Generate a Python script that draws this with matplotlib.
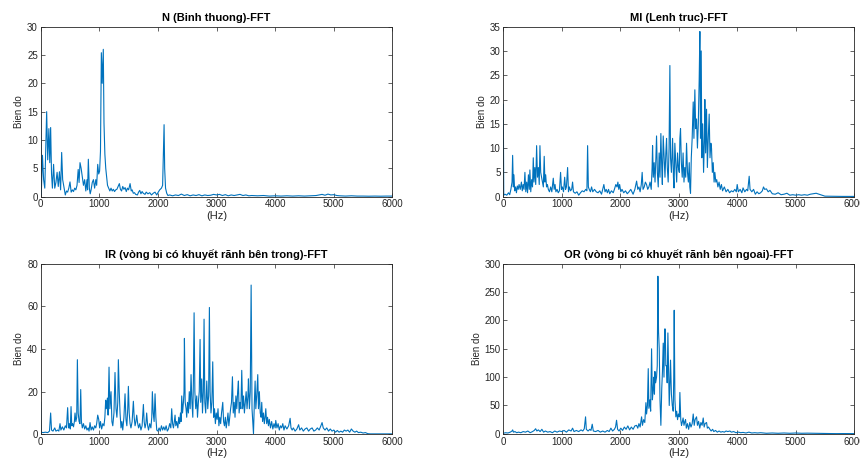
import matplotlib
matplotlib.use("Agg")
import matplotlib.pyplot as plt

# ---------------- data ----------------
n_hz = [
    0, 10, 30, 50, 70, 90, 102, 120, 140, 155,
    170, 185, 200, 220, 240, 260, 280, 300, 320, 340,
    358, 375, 400, 420, 440, 460, 480, 500, 520, 540,
    560, 580, 600, 620, 640, 655, 671, 690, 710, 730,
    750, 770, 790, 800, 813, 830, 845, 860, 880, 900,
    920, 940, 955, 973, 990, 1005, 1020, 1035, 1050, 1068,
    1080, 1095, 1110, 1125, 1140, 1160, 1180, 1200, 1220, 1240,
    1260, 1280, 1300, 1320, 1342, 1360, 1380, 1400, 1420, 1440,
    1460, 1480, 1500, 1525, 1545, 1560, 1580, 1600, 1620, 1650,
    1670, 1690, 1710, 1730, 1750, 1780, 1800, 1830, 1860, 1890,
    1920, 1950, 1980, 2000, 2030, 2060, 2080, 2095, 2105, 2115,
    2130, 2150, 2170, 2200, 2250, 2300, 2350, 2400, 2450, 2500,
    2550, 2600, 2650, 2700, 2750, 2800, 2850, 2900, 2950, 3000,
    3050, 3100, 3150, 3200, 3250, 3300, 3350, 3400, 3450, 3500,
    3550, 3600, 3700, 3800, 3900, 4000, 4100, 4200, 4300, 4400,
    4500, 4600, 4700, 4750, 4800, 4850, 4900, 4950, 5000, 5050,
    5100, 5200, 5300, 5400, 5500, 5600, 5700, 5800, 5900, 6000,
]
n_amp = [
    14.8, 0.4, 7.3, 3, 1.5, 10, 15, 6.5, 12, 6,
    12.2, 4, 1.5, 5.7, 1.5, 2.5, 4.3, 1.8, 4.4, 1.2,
    7.8, 3, 1.5, 0.3, 1, 0.8, 1.5, 2.6, 0.8, 1.2,
    0.9, 1.5, 1.2, 2, 4.8, 2.5, 6, 5, 3.5, 2,
    3, 1, 3, 1.2, 6.6, 1.5, 0.5, 1.2, 2.5, 3,
    1.5, 3, 2, 5.7, 4, 4.5, 8, 25.4, 20, 26,
    13, 7.5, 5, 3.5, 2, 1.5, 1, 1.5, 1, 1.3,
    0.9, 1.2, 1.3, 1.8, 2.3, 1.3, 1.0, 1.8, 1.3, 1.6,
    0.9, 1.5, 1.2, 2.3, 1, 1.2, 0.6, 0.7, 0.4, 0.3,
    0.8, 1.1, 0.5, 0.9, 0.6, 0.4, 0.8, 0.5, 0.7, 0.3,
    0.6, 0.8, 0.3, 0.7, 1.2, 1.5, 2, 8, 12.7, 5,
    1.5, 0.6, 0.2, 0.3, 0.15, 0.3, 0.2, 0.45, 0.2, 0.35,
    0.15, 0.3, 0.2, 0.35, 0.15, 0.3, 0.2, 0.25, 0.4, 0.3,
    0.4, 0.2, 0.35, 0.15, 0.3, 0.2, 0.3, 0.4, 0.2, 0.3,
    0.15, 0.2, 0.15, 0.2, 0.1, 0.15, 0.1, 0.15, 0.1, 0.15,
    0.1, 0.15, 0.2, 0.3, 0.4, 0.25, 0.45, 0.3, 0.35, 0.2,
    0.15, 0.1, 0.15, 0.1, 0.1, 0.08, 0.1, 0.08, 0.1, 0.1,
]

mi_hz = [
    0, 8, 30, 60, 90, 110, 130, 150, 160, 172,
    182, 195, 210, 225, 240, 255, 270, 290, 310, 325,
    340, 355, 370, 385, 400, 415, 430, 445, 455, 470,
    485, 500, 513, 525, 540, 555, 570, 585, 600, 615,
    627, 640, 655, 670, 685, 700, 712, 725, 740, 755,
    770, 790, 810, 830, 855, 870, 885, 900, 920, 940,
    960, 980, 995, 1010, 1030, 1050, 1065, 1080, 1100, 1115,
    1130, 1150, 1170, 1185, 1200, 1230, 1260, 1290, 1320, 1350,
    1380, 1410, 1430, 1442, 1455, 1470, 1490, 1510, 1530, 1560,
    1590, 1620, 1650, 1680, 1700, 1720, 1740, 1760, 1780, 1800,
    1820, 1850, 1880, 1900, 1925, 1945, 1960, 1975, 1990, 2010,
    2030, 2060, 2090, 2120, 2150, 2180, 2200, 2220, 2250, 2280,
    2300, 2320, 2340, 2360, 2375, 2390, 2410, 2430, 2450, 2470,
    2490, 2510, 2530, 2545, 2553, 2565, 2580, 2595, 2610, 2621,
    2635, 2650, 2665, 2680, 2695, 2710, 2720, 2735, 2750, 2765,
    2780, 2792, 2805, 2820, 2835, 2849, 2860, 2875, 2895, 2910,
    2920, 2934, 2950, 2965, 2980, 2995, 3010, 3020, 3031, 3045,
    3060, 3075, 3090, 3105, 3120, 3134, 3150, 3165, 3180, 3190,
    3202, 3215, 3230, 3248, 3260, 3276, 3290, 3305, 3320, 3335,
    3350, 3362, 3372, 3385, 3395, 3410, 3425, 3440, 3447, 3460,
    3476, 3490, 3505, 3521, 3535, 3550, 3561, 3575, 3590, 3605,
    3618, 3635, 3650, 3670, 3690, 3710, 3730, 3750, 3780, 3810,
    3840, 3870, 3900, 3930, 3960, 3985, 4000, 4020, 4050, 4080,
    4100, 4130, 4160, 4180, 4205, 4220, 4250, 4280, 4310, 4340,
    4370, 4400, 4430, 4450, 4470, 4500, 4530, 4560, 4600, 4650,
    4700, 4750, 4800, 4850, 4900, 4950, 5000, 5050, 5100, 5150,
    5200, 5250, 5300, 5350, 5400, 5450, 5500, 5600, 5800, 6000,
]
mi_amp = [
    19, 0.3, 0.5, 0.3, 0.8, 0.4, 1.5, 3, 8.5, 2,
    4.5, 1.2, 2, 0.8, 2.2, 1.5, 2.5, 1.5, 3, 1.2,
    2.5, 1.5, 5, 1, 3, 0.8, 4.5, 1.5, 5.5, 1,
    3.5, 2, 8, 3, 6, 2.5, 10.5, 4, 6, 2.5,
    10.5, 5, 4, 3, 2, 8.3, 3, 4.5, 2, 2.5,
    1.5, 1, 2, 1, 3.8, 1.5, 2.5, 1, 1.5, 0.8,
    1.2, 5, 1.5, 2, 1, 4, 1.5, 2, 6, 1,
    2, 1.2, 1.5, 3, 1, 0.7, 1, 0.3, 0.8, 1.2,
    1, 1.5, 1.2, 10.5, 2, 1.5, 1, 2, 1, 1.5,
    1, 0.8, 1.2, 0.5, 1.5, 2.5, 1, 1.5, 0.8, 1.5,
    0.6, 1.2, 0.8, 1.5, 2.5, 2, 3, 1.5, 2.5, 1,
    1.5, 0.8, 1.2, 0.6, 1, 1.5, 1, 0.5, 1.5, 3.2,
    1.5, 2, 1, 2.5, 5, 1.5, 2, 3, 2.5, 1.5,
    2, 3, 1.5, 6, 10.5, 4, 7, 3, 8, 12.5,
    5, 2, 9, 4, 13, 6, 2.5, 12.5, 8, 4,
    9, 12, 6, 3, 10, 27, 8, 5, 12, 4,
    1.8, 11, 7, 3, 9, 6, 5, 12, 14, 7,
    4, 9, 3, 6, 4, 11, 5, 3, 7, 2,
    0.7, 8, 12, 19.5, 12, 22, 14, 16, 10, 15,
    24, 34, 12, 30, 8, 15, 5, 12, 20, 9,
    18, 6, 12, 17, 8, 11, 10, 5, 7, 3,
    5, 3, 3.5, 2, 3, 1.5, 2.5, 1.2, 2, 1,
    1.5, 0.8, 1.2, 1, 1.5, 1, 2.5, 1, 1.5, 0.8,
    1.8, 1, 1.5, 1.2, 4.2, 1.5, 1, 1.5, 0.5, 1,
    0.6, 0.8, 1.2, 2, 1.5, 1.6, 1, 1.3, 0.6, 0.5,
    0.8, 0.4, 0.5, 0.7, 0.3, 0.4, 0.3, 0.4, 0.3, 0.4,
    0.3, 0.5, 0.6, 0.7, 0.5, 0.3, 0.1, 0.08, 0.05, 0.05,
]

ir_hz = [
    0, 8, 40, 80, 120, 150, 170, 185, 210, 240,
    260, 290, 310, 330, 345, 370, 395, 420, 440, 460,
    475, 490, 505, 518, 530, 545, 560, 575, 586, 600,
    615, 626, 640, 655, 670, 683, 695, 710, 730, 750,
    770, 790, 810, 825, 842, 860, 880, 900, 920, 940,
    955, 973, 990, 1005, 1020, 1040, 1060, 1080, 1095, 1109,
    1120, 1138, 1150, 1166, 1180, 1200, 1215, 1230, 1250, 1268,
    1285, 1300, 1315, 1325, 1340, 1354, 1370, 1385, 1400, 1420,
    1439, 1455, 1470, 1485, 1496, 1510, 1525, 1540, 1560, 1581,
    1595, 1610, 1625, 1638, 1655, 1670, 1690, 1710, 1730, 1752,
    1765, 1780, 1795, 1808, 1825, 1840, 1860, 1880, 1895, 1905,
    1920, 1935, 1951, 1965, 1980, 2000, 2020, 2040, 2060, 2080,
    2100, 2120, 2140, 2160, 2180, 2200, 2220, 2235, 2250, 2265,
    2280, 2292, 2305, 2320, 2340, 2355, 2370, 2385, 2395, 2406,
    2420, 2435, 2445, 2452, 2465, 2480, 2491, 2505, 2520, 2535,
    2550, 2565, 2580, 2595, 2605, 2617, 2630, 2645, 2662, 2675,
    2690, 2705, 2719, 2730, 2747, 2760, 2775, 2787, 2800, 2815,
    2833, 2850, 2865, 2878, 2890, 2905, 2920, 2935, 2950, 2965,
    2980, 2995, 3010, 3025, 3040, 3055, 3070, 3085, 3106, 3120,
    3135, 3150, 3165, 3180, 3195, 3210, 3225, 3240, 3255, 3271,
    3285, 3300, 3315, 3330, 3345, 3360, 3373, 3385, 3400, 3415,
    3430, 3445, 3460, 3475, 3490, 3505, 3520, 3535, 3544, 3560,
    3575, 3590, 3605, 3620, 3630, 3645, 3658, 3670, 3685, 3703,
    3715, 3730, 3745, 3760, 3771, 3785, 3800, 3815, 3828, 3840,
    3855, 3870, 3885, 3900, 3920, 3940, 3960, 3980, 4000, 4010,
    4030, 4050, 4070, 4090, 4110, 4130, 4150, 4170, 4200, 4230,
    4255, 4270, 4290, 4310, 4340, 4370, 4400, 4420, 4450, 4480,
    4510, 4540, 4570, 4600, 4630, 4660, 4690, 4720, 4750, 4780,
    4800, 4820, 4850, 4880, 4910, 4940, 4970, 5000, 5030, 5060,
    5090, 5120, 5150, 5180, 5210, 5240, 5270, 5300, 5330, 5360,
    5390, 5420, 5460, 5500, 5540, 5580, 5620, 5700, 5850, 6000,
]
ir_amp = [
    15, 1, 0.8, 1, 0.8, 1.5, 10, 2, 1.5, 3,
    1.5, 2, 1.5, 5, 2, 3.5, 2, 4, 3, 12.5,
    3, 5, 2.5, 13, 4, 5, 3.5, 6, 10, 6,
    8, 35, 10, 6, 5, 21, 6, 3, 5, 2.5,
    4, 2, 3, 1.5, 5.5, 2, 3.5, 2, 4, 3,
    5, 9, 7, 3, 6, 2.5, 5, 4, 8, 16,
    12, 17, 9, 31.5, 12, 20, 6, 4, 10, 29,
    12, 8, 15, 35, 20, 10, 3, 6, 2, 8,
    19, 7, 4, 12, 22.5, 10, 5, 3, 6, 15.5,
    8, 4, 6, 9, 5, 3, 5, 2, 4, 14,
    6, 3, 5, 10, 4, 2, 5, 3, 8, 20,
    10, 6, 19, 8, 2, 1.5, 3, 1.5, 4, 2,
    3.5, 2, 4, 1.5, 2.5, 5, 3, 12, 5, 3,
    6, 9, 4, 6, 3, 8, 5, 10, 6, 18,
    10, 15, 20, 45, 15, 12, 8, 15, 10, 20,
    12, 28, 15, 8, 25, 57, 20, 12, 18, 8,
    15, 20, 44.5, 15, 26, 10, 20, 54, 15, 10,
    25, 12, 18, 59.5, 20, 10, 15, 34, 8, 12,
    5, 10, 7, 12, 4, 8, 5, 10, 15, 6,
    4, 8, 3, 6, 10, 4, 8, 12, 15, 27,
    10, 15, 8, 18, 12, 20, 25, 10, 15, 12,
    30, 12, 18, 10, 15, 20, 12, 18, 26, 12,
    20, 70, 12, 5, 0.3, 15, 25, 12, 18, 28,
    12, 20, 10, 8, 15, 6, 10, 5, 8, 12,
    5, 8, 4, 7, 3, 6, 2.5, 5, 3, 6.5,
    3, 5, 2, 4, 3, 5, 2, 4, 2.5, 4,
    7.5, 3, 2, 3, 1.5, 2.5, 4.5, 2, 3, 1.5,
    2.5, 3, 1.5, 2.5, 3, 1.5, 2, 3, 2, 4,
    5.5, 3, 2, 3, 1.5, 2.5, 1.5, 2, 1, 1.8,
    1, 1.5, 1, 2, 1.5, 2, 1, 2.5, 1.5, 1,
    1.5, 0.8, 1, 0.6, 0.8, 0.3, 0.2, 0.2, 0.2, 0.2,
]

or_hz = [
    0, 40, 80, 120, 150, 160, 175, 200, 230, 260,
    300, 340, 380, 420, 460, 500, 530, 553, 575, 600,
    630, 660, 690, 720, 760, 800, 840, 880, 920, 960,
    1000, 1040, 1080, 1120, 1160, 1185, 1210, 1250, 1290, 1330,
    1360, 1385, 1407, 1420, 1450, 1480, 1500, 1521, 1540, 1580,
    1620, 1660, 1700, 1740, 1780, 1810, 1840, 1870, 1900, 1920,
    1937, 1955, 1980, 2010, 2040, 2070, 2100, 2130, 2160, 2190,
    2220, 2250, 2279, 2300, 2320, 2340, 2365, 2380, 2400, 2420,
    2439, 2450, 2465, 2479, 2490, 2507, 2520, 2536, 2550, 2565,
    2575, 2585, 2593, 2605, 2621, 2633, 2644, 2655, 2667, 2680,
    2695, 2710, 2722, 2735, 2748, 2760, 2769, 2780, 2792, 2803,
    2815, 2828, 2838, 2850, 2860, 2875, 2890, 2906, 2915, 2923,
    2935, 2951, 2965, 2980, 2995, 3010, 3020, 3035, 3048, 3060,
    3075, 3090, 3105, 3117, 3130, 3150, 3170, 3190, 3210, 3230,
    3248, 3265, 3280, 3305, 3320, 3340, 3360, 3380, 3400, 3419,
    3435, 3450, 3476, 3490, 3510, 3533, 3555, 3580, 3600, 3630,
    3660, 3690, 3720, 3750, 3780, 3810, 3840, 3875, 3900, 3940,
    3980, 4020, 4060, 4100, 4150, 4200, 4250, 4300, 4350, 4400,
    4450, 4500, 4600, 4700, 4800, 4900, 5000, 5100, 5200, 5300,
    5400, 5500, 5600, 5700, 5800, 5900, 6000,
]
or_amp = [
    1, 2, 1.5, 3, 5, 7, 3, 4, 2, 3,
    2, 4, 3, 5, 2, 4, 6, 9, 5, 7,
    4, 8, 3, 5, 3, 4, 2, 5, 3, 5,
    4, 6, 3, 7, 5, 10, 4, 6, 4, 7,
    5, 9, 30, 8, 5, 8, 6, 17, 5, 4,
    6, 3, 5, 3, 6, 4, 10, 5, 8, 12,
    24, 8, 5, 10, 6, 12, 8, 14, 7, 12,
    8, 14, 15, 10, 18, 12, 30, 15, 25, 20,
    55, 35, 50, 115, 45, 60, 40, 150, 60, 80,
    100, 70, 110, 90, 100, 120, 278, 180, 150, 60,
    15, 80, 110, 160, 100, 185, 185, 120, 120, 90,
    178, 100, 50, 90, 130, 70, 50, 40, 100, 218,
    60, 30, 40, 25, 35, 30, 73, 25, 15, 20,
    28, 15, 22, 25, 10, 18, 8, 20, 12, 18,
    35, 15, 25, 30, 15, 22, 10, 20, 15, 28,
    12, 18, 20, 10, 12, 8, 5, 8, 4, 6,
    3, 5, 3, 4, 3, 5, 4, 5, 3, 4,
    2, 3, 2, 2.5, 1.5, 3, 1.5, 2, 1.5, 2,
    1.5, 1, 1.5, 1, 1.5, 1, 1.5, 1, 1.2, 1,
    0.8, 0.6, 0.5, 0.4, 0.5, 0.4, 0.4,
]

titles = [
    "N (Binh thuong)-FFT",
    "MI (Lenh truc)-FFT",
    "IR (vòng bi có khuyết rãnh bên trong)-FFT",
    "OR (vòng bi có khuyết rãnh bên ngoai)-FFT",
]
y_limits = [30, 35, 80, 300]
y_steps = [5, 5, 20, 50]
x_ticks = [0, 1000, 2000, 3000, 4000, 5000, 6000]
x_label = "(Hz)"
y_label = "Bien do"

# ---------------- drawing ----------------
plt.rcParams["font.family"] = ["Liberation Sans", "DejaVu Sans"]
LINE = "#0072BD"
AXC = "#262626"

fig = plt.figure(figsize=(8.6, 4.66), dpi=100)
positions = [
    [0.0473, 0.578, 0.409, 0.3648],
    [0.5852, 0.578, 0.408, 0.3648],
    [0.0473, 0.068, 0.409, 0.366],
    [0.5852, 0.069, 0.408, 0.365],
]
series = [(n_hz, n_amp), (mi_hz, mi_amp), (ir_hz, ir_amp), (or_hz, or_amp)]

for pos, (hz, amp), title, ymax, ystep in zip(positions, series, titles, y_limits, y_steps):
    ax = fig.add_axes(pos)
    ax.plot(hz, amp, color=LINE, linewidth=0.8)
    ax.set_xlim(0, 6000)
    ax.set_ylim(0, ymax)
    ax.set_xticks(x_ticks)
    ax.set_yticks(list(range(0, ymax + 1, ystep)))
    ax.tick_params(direction="in", length=3, width=0.5, colors=AXC,
                   labelsize=7, top=True, right=True, pad=2)
    for s in ax.spines.values():
        s.set_color(AXC)
        s.set_linewidth(0.6)
    ax.set_title(title, fontsize=8, fontweight="bold", color="black", pad=4)
    ax.set_xlabel(x_label, fontsize=8, color=AXC, labelpad=1)
    ax.set_ylabel(y_label, fontsize=7, color=AXC, labelpad=2)

fig.savefig("out.png", dpi=100)
